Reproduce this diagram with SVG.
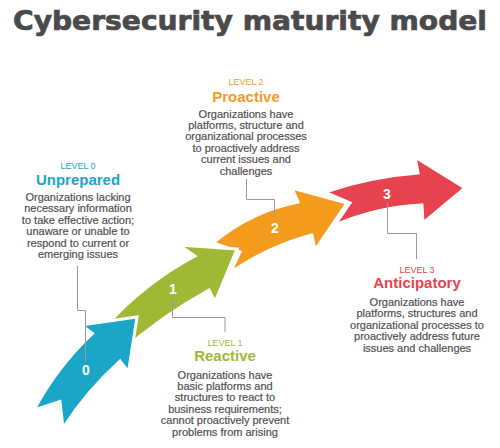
<svg xmlns="http://www.w3.org/2000/svg" width="500" height="448" viewBox="0 0 500 448">
<style>
.title{font-family:"DejaVu Sans",sans-serif;font-weight:bold;font-size:26px;fill:#4a4a4c;stroke:#4a4a4c;stroke-width:0.7}
.lvl{font-family:"Liberation Sans",Arial,sans-serif;font-size:9px;text-anchor:middle}
.head{font-family:"Liberation Sans",Arial,sans-serif;font-weight:bold;font-size:15px;text-anchor:middle}
.body{font-family:"Liberation Sans",Arial,sans-serif;font-size:11px;fill:#505052;stroke:#505052;stroke-width:0.2;text-anchor:middle}
.num{font-family:"Liberation Sans",Arial,sans-serif;font-weight:bold;font-size:14px;fill:#fff;text-anchor:middle}
.arrow{stroke:#fff;stroke-width:3;stroke-linejoin:miter}
.lead{fill:none;stroke:#9a9a9a;stroke-width:1}
.blue{fill:#1aa6c6}.green{fill:#9fb935}.orange{fill:#f59c1f}.red{fill:#e6434e}
</style>
<rect width="500" height="448" fill="#fff"/>
<text class="title" x="13" y="30" textLength="474" lengthAdjust="spacingAndGlyphs">Cybersecurity maturity model</text>

<g id="level3">
<path class="arrow red" d="M465,188 L415,157 L418,173 Q370.3,176.6 325,192 L350,203 L335,225 Q376.7,207.2 422,205 L423,223 Z"/>
<text class="num" x="387" y="199">3</text>
<text class="lvl red" x="417" y="273">LEVEL 3</text>
<text class="head red" x="417" y="288">Anticipatory</text>
<text class="body" x="417" y="306">Organizations have</text>
<text class="body" x="417" y="317.4">platforms, structures and</text>
<text class="body" x="417" y="328.8">organizational processes to</text>
<text class="body" x="417" y="340.2">proactively address future</text>
<text class="body" x="417" y="351.6">issues and challenges</text>
</g>

<g id="level2">
<path class="arrow orange" d="M347,203 L292,188 L298,202 Q250.3,211.7 213,243 L240,252 L230,273 Q267.6,246.7 312,235 L315,250 Z"/>
<text class="num" x="275" y="233">2</text>
<text class="lvl orange" x="246" y="85">LEVEL 2</text>
<text class="head orange" x="246" y="102">Proactive</text>
<text class="body" x="246" y="117.5">Organizations have</text>
<text class="body" x="246" y="128.9">platforms, structure and</text>
<text class="body" x="246" y="140.3">organizational processes</text>
<text class="body" x="246" y="151.7">to proactively address</text>
<text class="body" x="246" y="163.1">current issues and</text>
<text class="body" x="246" y="174.5">challenges</text>
</g>

<g id="level1">
<path class="arrow green" d="M237,249 L179,245 L195,256 Q143.3,283.6 104,328 L115,338 L121,352 Q161.5,316 209,290 L215,302 Z"/>
<text class="num" x="173" y="294">1</text>
<text class="lvl green" x="225" y="346">LEVEL 1</text>
<text class="head green" x="225" y="361">Reactive</text>
<text class="body" x="225" y="378.5">Organizations have</text>
<text class="body" x="225" y="389.9">basic platforms and</text>
<text class="body" x="225" y="401.3">structures to react to</text>
<text class="body" x="225" y="412.7">business requirements;</text>
<text class="body" x="225" y="424.1">cannot proactively prevent</text>
<text class="body" x="225" y="435.5">problems from arising</text>
</g>

<g id="level0">
<path class="arrow blue" d="M137,317 L81,325 L92.5,333.5 Q56.9,366.9 34,410 L60,401.5 L63,428 Q87,390.6 120,361 L128.5,372 Z"/>
<text class="num" x="86" y="375">0</text>
<text class="lvl blue" x="78" y="169">LEVEL 0</text>
<text class="head blue" x="78" y="184.5">Unprepared</text>
<text class="body" x="78" y="201">Organizations lacking</text>
<text class="body" x="78" y="212.4">necessary information</text>
<text class="body" x="78" y="223.8">to take effective action;</text>
<text class="body" x="78" y="235.2">unaware or unable to</text>
<text class="body" x="78" y="246.6">respond to current or</text>
<text class="body" x="78" y="258">emerging issues</text>
</g>

<g id="connectors">
<polyline class="lead" points="77.5,266 77.5,310.5 85.5,310.5 85.5,362"/>
<polyline class="lead" points="172.5,298 172.5,317.5 225,317.5 225,332"/>
<polyline class="lead" points="246.5,179 246.5,199.5 274.5,199.5 274.5,218"/>
<polyline class="lead" points="387.5,203 387.5,233.5 416.5,233.5 416.5,259"/>
</g>
</svg>
